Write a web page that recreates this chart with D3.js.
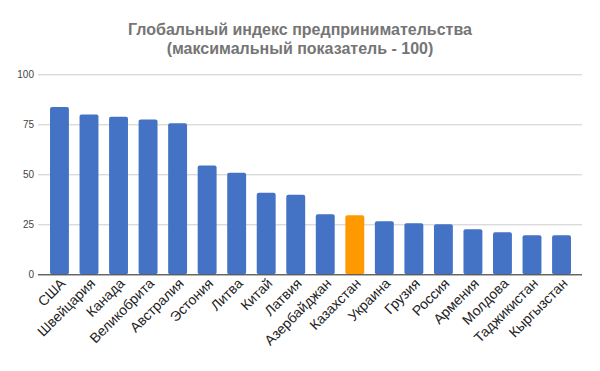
<!DOCTYPE html>
<html>
<head>
<meta charset="utf-8">
<script src="https://cdn.jsdelivr.net/npm/d3@7"></script>
<style>
  body { margin: 0; background: #fff; }
  svg { display: block; font-family: "Liberation Sans", Arial, sans-serif; }
</style>
</head>
<body>
<svg></svg>
<script>
let countries = ["США", "Швейцария", "Канада", "Великобрита", "Австралия", "Эстония", "Литва", "Китай", "Латвия",
  "Азербайджан", "Казахстан", "Украина", "Грузия", "Россия", "Армения", "Молдова", "Таджикистан", "Кыргызстан"]
let scores = [83.6, 79.9, 78.8, 77.4, 75.5, 54.4, 50.8, 40.8, 39.8, 30.0, 29.5, 26.5, 25.5, 25.0, 22.5, 21.0, 19.5, 19.5]
let highlight = "Казахстан"
let yTicks = [0, 25, 50, 75, 100]

let width = 600
let height = 371

let svg = d3.select("svg")
    .attr("width", width)
    .attr("height", height)

let xScale = d3.scaleBand()
    .domain(countries)
    .range([44.7, 576.3])
    .paddingInner(0.36)
    .paddingOuter(0.18)

let yScale = d3.scaleLinear()
    .domain([0, 100])
    .range([274.3, 74.3])

// title
let title = svg.append("text")
    .attr("x", 300)
    .attr("text-anchor", "middle")
    .attr("fill", "#757575")
    .attr("font-weight", "bold")
    .attr("font-size", 16)
title.append("tspan").attr("x", 300).attr("y", 35).text("Глобальный индекс предпринимательства")
title.append("tspan").attr("x", 300).attr("y", 54).text("(максимальный показатель - 100)")

// grid + y labels
let yAxis = d3.axisLeft(yScale)
    .tickValues(yTicks)
    .tickSize(-(582 - 38))
    .tickPadding(4)

svg.append("g")
    .attr("transform", "translate(38,0)")
    .call(yAxis)
    .call(g => g.select(".domain").remove())
    .call(g => g.selectAll(".tick line").attr("stroke", "#cccccc"))
    .call(g => g.selectAll(".tick text")
        .attr("fill", "#444")
        .attr("font-size", 10)
        .attr("font-family", "\"Liberation Sans\", Arial, sans-serif"))

// bars
svg.selectAll("rect.bar")
    .data(countries)
    .enter()
    .append("rect")
    .attr("class", "bar")
    .attr("x", d => xScale(d))
    .attr("width", xScale.bandwidth())
    .attr("y", (d, i) => yScale(scores[i]))
    .attr("height", (d, i) => yScale(0) - yScale(scores[i]))
    .attr("rx", 2)
    .attr("fill", d => d == highlight ? "#ff9900" : "#4472c4")

// x axis labels
let xAxis = d3.axisBottom(xScale).tickSize(0).tickPadding(0)

svg.append("g")
    .attr("transform", "translate(0," + yScale(0) + ")")
    .call(xAxis)
    .call(g => g.select(".domain").remove())
    .call(g => g.selectAll(".tick text")
        .attr("fill", "#222")
        .attr("font-size", 14)
        .attr("font-family", "\"Liberation Sans\", Arial, sans-serif")
        .attr("text-anchor", "end")
        .attr("dy", 0)
        .attr("transform", "translate(7,10) rotate(-45)"))

// base line over bars
svg.append("line")
    .attr("x1", 38).attr("x2", 582)
    .attr("y1", yScale(0) + 0.5).attr("y2", yScale(0) + 0.5)
    .attr("stroke", "#333")
</script>
</body>
</html>
